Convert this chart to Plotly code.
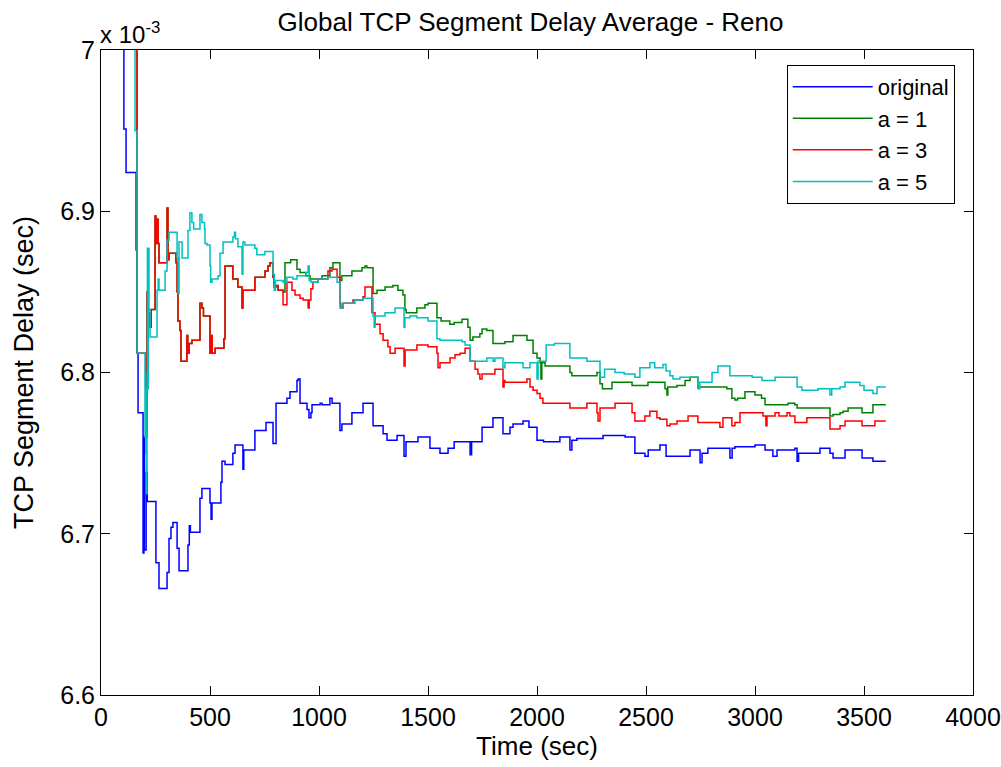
import plotly.graph_objects as go

# Global TCP segment delay average (units of 1e-3 s) vs time (s), stepwise series
original = [
    (95, 7.08), (105, 6.951), (115, 6.924), (161, 6.876), (166, 6.812), (170, 6.775),
    (193, 6.688), (197, 6.760), (199, 6.690), (207, 6.738), (212, 6.720), (252, 6.682),
    (266, 6.666), (303, 6.676), (312, 6.697), (321, 6.704), (330, 6.707), (349, 6.691),
    (358, 6.677), (399, 6.693), (405, 6.705), (410, 6.701), (454, 6.722), (463, 6.728),
    (500, 6.719), (505, 6.709), (509, 6.719), (550, 6.732), (555, 6.745), (569, 6.743),
    (605, 6.750), (615, 6.755), (651, 6.740), (655, 6.752), (706, 6.764), (757, 6.769),
    (789, 6.756), (803, 6.781), (853, 6.784), (867, 6.788), (899, 6.795), (904, 6.796),
    (913, 6.781), (945, 6.777), (954, 6.772), (963, 6.775), (968, 6.780), (1005, 6.781),
    (1014, 6.780), (1050, 6.784), (1060, 6.781), (1096, 6.764), (1105, 6.768), (1151, 6.775),
    (1202, 6.781), (1248, 6.767), (1294, 6.762), (1312, 6.758), (1358, 6.761), (1390, 6.748),
    (1399, 6.757), (1454, 6.760), (1509, 6.753), (1555, 6.750), (1592, 6.753), (1620, 6.757),
    (1693, 6.749), (1700, 6.757), (1748, 6.766), (1798, 6.772), (1844, 6.762), (1876, 6.766),
    (1890, 6.768), (1936, 6.770), (1963, 6.766), (2000, 6.758), (2030, 6.757), (2105, 6.760),
    (2151, 6.752), (2160, 6.758), (2183, 6.759), (2303, 6.761), (2404, 6.760), (2449, 6.750),
    (2495, 6.748), (2510, 6.752), (2564, 6.755), (2592, 6.748), (2702, 6.752), (2748, 6.744),
    (2757, 6.750), (2784, 6.753), (2885, 6.747), (2895, 6.753), (2908, 6.754), (3000, 6.755),
    (3046, 6.752), (3082, 6.748), (3101, 6.752), (3183, 6.753), (3193, 6.745), (3200, 6.750),
    (3298, 6.753), (3344, 6.750), (3358, 6.747), (3413, 6.752), (3491, 6.747), (3541, 6.745),
    (3600, 6.745),
]

a1 = [
    (140, 7.10), (165, 6.812), (205, 6.760), (211, 6.850), (216, 6.837), (222, 6.828),
    (230, 6.839), (248, 6.897), (252, 6.880), (257, 6.895), (262, 6.880), (266, 6.868),
    (303, 6.902), (307, 6.870), (312, 6.874), (344, 6.868), (349, 6.850), (353, 6.832),
    (362, 6.826), (367, 6.807), (394, 6.823), (398, 6.812), (404, 6.818), (417, 6.820),
    (454, 6.843), (463, 6.840), (470, 6.835), (500, 6.812), (505, 6.823), (510, 6.812),
    (523, 6.815), (564, 6.821), (569, 6.866), (605, 6.858), (628, 6.853), (647, 6.840),
    (651, 6.851), (706, 6.859), (752, 6.863), (766, 6.866), (775, 6.868), (789, 6.859),
    (794, 6.853), (803, 6.854), (812, 6.851), (835, 6.850),
    (844, 6.868), (870, 6.870), (899, 6.864), (913, 6.862), (940, 6.860), (959, 6.858),
    (1014, 6.860), (1050, 6.865), (1064, 6.868), (1096, 6.857), (1105, 6.860), (1151, 6.863),
    (1197, 6.865), (1211, 6.866), (1220, 6.865), (1248, 6.849), (1266, 6.851), (1303, 6.853),
    (1339, 6.854), (1362, 6.851), (1385, 6.848), (1394, 6.839), (1400, 6.837), (1449, 6.840),
    (1486, 6.842), (1500, 6.843), (1541, 6.834), (1560, 6.832), (1600, 6.830), (1620, 6.831),
    (1656, 6.833), (1683, 6.828), (1693, 6.820), (1706, 6.822), (1738, 6.824), (1748, 6.827),
    (1770, 6.826), (1798, 6.818), (1853, 6.819), (1890, 6.823), (1954, 6.820), (1982, 6.812),
    (2000, 6.809), (2014, 6.806), (2018, 6.796), (2022, 6.806), (2037, 6.804), (2151, 6.800),
    (2160, 6.798), (2275, 6.800), (2289, 6.793), (2300, 6.790), (2344, 6.794), (2436, 6.792),
    (2509, 6.794), (2587, 6.790), (2596, 6.786), (2600, 6.791), (2642, 6.792), (2679, 6.795),
    (2702, 6.797), (2738, 6.791), (2849, 6.791), (2871, 6.790), (2894, 6.784), (2908, 6.783),
    (2920, 6.784), (2954, 6.788), (3000, 6.786), (3030, 6.784), (3046, 6.780), (3151, 6.781),
    (3183, 6.780), (3193, 6.778), (3289, 6.778), (3344, 6.773), (3358, 6.774), (3390, 6.775),
    (3404, 6.776), (3427, 6.778), (3491, 6.775), (3541, 6.780), (3600, 6.780),
]

a3 = [
    (140, 7.10), (165, 6.812), (205, 6.760), (211, 6.850), (216, 6.837), (222, 6.828),
    (230, 6.839), (248, 6.897), (252, 6.880), (257, 6.895), (262, 6.880), (266, 6.868),
    (303, 6.902), (307, 6.870), (312, 6.874), (344, 6.868), (349, 6.850), (353, 6.832),
    (362, 6.826), (367, 6.807), (394, 6.823), (398, 6.812), (404, 6.818), (417, 6.820),
    (454, 6.843), (463, 6.840), (470, 6.835), (500, 6.812), (505, 6.823), (510, 6.812),
    (523, 6.815), (564, 6.821), (569, 6.866), (605, 6.858), (628, 6.853), (647, 6.840),
    (651, 6.851), (706, 6.859), (752, 6.863), (766, 6.866), (775, 6.868), (789, 6.859),
    (794, 6.853), (803, 6.854), (812, 6.851), (835, 6.842), (853, 6.856), (876, 6.851),
    (890, 6.848), (913, 6.846), (927, 6.845), (950, 6.840), (955, 6.845), (963, 6.852),
    (972, 6.856), (995, 6.858), (1041, 6.863), (1060, 6.864), (1083, 6.859), (1096, 6.843),
    (1100, 6.840), (1110, 6.843), (1156, 6.845), (1202, 6.847), (1211, 6.853), (1243, 6.837),
    (1257, 6.830), (1280, 6.824), (1294, 6.820), (1316, 6.816), (1326, 6.812), (1349, 6.815),
    (1390, 6.804), (1395, 6.814), (1449, 6.817), (1500, 6.816), (1541, 6.812), (1546, 6.803),
    (1555, 6.806), (1601, 6.809), (1624, 6.811), (1647, 6.812), (1670, 6.815), (1693, 6.807),
    (1716, 6.802), (1729, 6.799), (1738, 6.796), (1748, 6.799), (1807, 6.802), (1844, 6.791),
    (1849, 6.795), (1853, 6.794), (1954, 6.796), (1968, 6.791), (1982, 6.789), (2000, 6.787),
    (2014, 6.784), (2027, 6.781), (2105, 6.781), (2151, 6.778), (2229, 6.781), (2275, 6.775),
    (2280, 6.770), (2289, 6.778), (2358, 6.781), (2394, 6.781), (2436, 6.775), (2449, 6.770),
    (2495, 6.773), (2518, 6.776), (2550, 6.772), (2564, 6.771), (2596, 6.767), (2610, 6.768),
    (2642, 6.770), (2693, 6.773), (2738, 6.769), (2839, 6.766), (2853, 6.772), (2894, 6.767),
    (2908, 6.769), (2931, 6.775), (3037, 6.773), (3050, 6.767), (3055, 6.773), (3092, 6.775),
    (3110, 6.773), (3147, 6.775), (3160, 6.773), (3183, 6.769), (3238, 6.772), (3289, 6.772),
    (3344, 6.765), (3390, 6.767), (3413, 6.770), (3491, 6.767), (3550, 6.770), (3600, 6.770),
]

a5 = [
    (130, 7.10), (156, 6.95), (165, 6.812), (202, 6.760), (204, 6.790), (206, 6.750),
    (208, 6.725), (211, 6.800), (213, 6.877), (215, 6.790), (217, 6.877), (220, 6.839),
    (225, 6.822), (257, 6.851), (262, 6.858), (266, 6.851), (294, 6.863), (303, 6.882),
    (312, 6.887), (349, 6.871), (353, 6.849), (358, 6.881), (372, 6.871), (399, 6.888),
    (408, 6.899), (417, 6.893), (425, 6.889), (454, 6.898), (463, 6.893), (475, 6.889),
    (477, 6.880), (486, 6.879), (500, 6.866), (503, 6.856), (509, 6.858), (537, 6.860),
    (546, 6.874), (560, 6.881), (605, 6.884), (612, 6.887), (617, 6.883), (628, 6.878),
    (647, 6.861), (651, 6.881), (660, 6.879), (706, 6.877), (715, 6.873), (752, 6.875),
    (789, 6.861), (795, 6.851), (800, 6.857), (835, 6.856), (853, 6.859), (880, 6.858),
    (899, 6.860), (940, 6.862), (950, 6.866), (955, 6.857), (963, 6.856), (995, 6.858),
    (1041, 6.859), (1083, 6.856), (1096, 6.840), (1105, 6.842), (1110, 6.843), (1165, 6.845),
    (1202, 6.846), (1248, 6.835), (1253, 6.828), (1257, 6.835), (1303, 6.837), (1349, 6.840),
    (1390, 6.828), (1394, 6.834), (1417, 6.835), (1449, 6.834), (1500, 6.832), (1541, 6.821),
    (1555, 6.820), (1656, 6.819), (1670, 6.817), (1693, 6.807), (1770, 6.809), (1798, 6.807),
    (1807, 6.809), (1844, 6.803), (1853, 6.806), (1936, 6.803), (1968, 6.806), (2000, 6.796),
    (2005, 6.807), (2042, 6.817), (2080, 6.818), (2151, 6.809), (2229, 6.807), (2289, 6.797),
    (2310, 6.802), (2358, 6.800), (2400, 6.799), (2449, 6.797), (2472, 6.803), (2518, 6.806),
    (2540, 6.803), (2564, 6.803), (2578, 6.805), (2592, 6.801), (2610, 6.798), (2624, 6.796),
    (2656, 6.797), (2738, 6.790), (2747, 6.794), (2803, 6.800), (2830, 6.804), (2885, 6.798),
    (2987, 6.797), (3032, 6.795), (3092, 6.797), (3193, 6.791), (3215, 6.789), (3289, 6.790),
    (3344, 6.786), (3352, 6.790), (3390, 6.791), (3413, 6.794), (3481, 6.792), (3500, 6.789),
    (3541, 6.787), (3560, 6.791), (3600, 6.791),
]

series_names = ["original", "a = 1", "a = 3", "a = 5"]
series_colors = ["#0000FF", "#008000", "#FF0000", "#00BFBF"]
series_data = [original, a1, a3, a5]

x_ticks = [0, 500, 1000, 1500, 2000, 2500, 3000, 3500, 4000]
y_ticks = [6.6, 6.7, 6.8, 6.9, 7.0]
y_tick_labels = ["6.6", "6.7", "6.8", "6.9", "7"]

FONT = "Liberation Sans, Arial, sans-serif"

fig = go.Figure()
for name, color, data in zip(series_names, series_colors, series_data):
    t = [p[0] for p in data]
    v = [p[1] for p in data]
    fig.add_trace(go.Scatter(
        x=t, y=v, mode="lines", name=name, legendgroup=name,
        line=dict(color=color, width=1.5, shape="hv"),
    ))

axis_common = dict(
    showline=True, linecolor="black", linewidth=1, mirror="ticks",
    ticks="inside", ticklen=9, tickcolor="black", showgrid=False, zeroline=False,
    automargin=False,
    tickfont=dict(family=FONT, size=25, color="black"),
)

fig.update_layout(
    width=1001, height=767,
    margin=dict(l=101, r=28, t=50, b=72),
    paper_bgcolor="white", plot_bgcolor="white",
    title=dict(text="Global TCP Segment Delay Average - Reno", x=0.53, xanchor="center",
               y=0.972, yanchor="middle", font=dict(family=FONT, size=26, color="black")),
    xaxis=dict(range=[0, 4000], tickvals=x_ticks,
               title=dict(text="Time (sec)", font=dict(family=FONT, size=26, color="black"), standoff=4),
               **axis_common),
    yaxis=dict(range=[6.6, 7.0], tickvals=y_ticks, ticktext=y_tick_labels,
               title=dict(text="TCP Segment Delay (sec)", font=dict(family=FONT, size=27, color="black"), standoff=18),
               **axis_common),
    legend=dict(x=0.979, y=0.977, xanchor="right", yanchor="top",
                bordercolor="black", borderwidth=1, bgcolor="white",
                font=dict(family=FONT, size=22, color="black"),
                itemwidth=80, traceorder="grouped", tracegroupgap=0),
    showlegend=True,
)

fig.add_annotation(
    text="x 10<sup>-3</sup>", xref="paper", yref="paper", x=-0.004, y=1.0,
    xanchor="left", yanchor="bottom", showarrow=False, yshift=0,
    font=dict(family=FONT, size=24, color="black"),
)

fig.write_html("out.html")
